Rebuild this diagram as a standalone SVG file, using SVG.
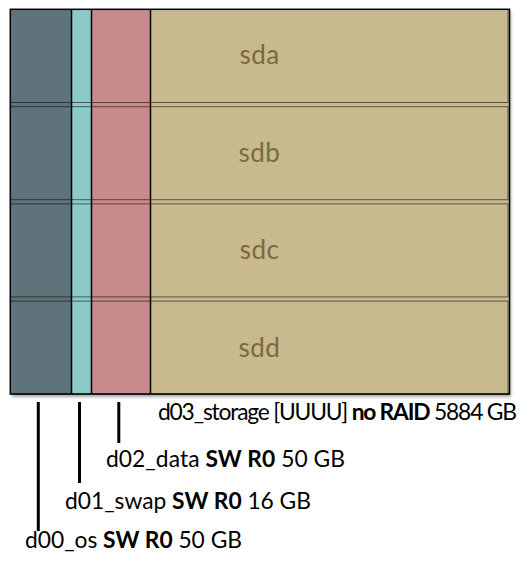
<svg xmlns="http://www.w3.org/2000/svg" width="531" height="561" viewBox="0 0 531 561">
<defs>
<filter id="sh" x="-5%" y="-5%" width="110%" height="110%"><feGaussianBlur stdDeviation="1.5"/></filter>
<style>
.row{fill:none;stroke:#000;stroke-opacity:0.55;stroke-width:1}
.div{stroke:#000;stroke-width:1.5}
.disk{font-family:Lato,"Open Sans",sans-serif;font-size:26px;fill:#7a6b3c;text-anchor:middle;letter-spacing:0.5px}
.lbl{font-family:Lato,"Open Sans",sans-serif;font-size:22.8px;fill:#000}
.lead{stroke:#000;stroke-width:3}
</style>
</defs>
<rect x="12" y="11" width="499" height="386" fill="#000" opacity="0.35" filter="url(#sh)"/>
<g id="columns">
<rect id="d00_os" x="10" y="9.5" width="61.5" height="384.5" fill="#5f747a"/>
<rect id="d01_swap" x="71.5" y="9.5" width="20" height="384.5" fill="#8ccac8"/>
<rect id="d02_data" x="91.5" y="9.5" width="59" height="384.5" fill="#c98a8b"/>
<rect id="d03_storage" x="150.5" y="9.5" width="359" height="384.5" fill="#c8b98f"/>
</g>
<g id="rows">
<g id="sda"><rect class="row" x="10.5" y="9.5" width="497.5" height="93"/><text class="disk" x="259.5" y="64">sda</text></g>
<g id="sdb"><rect class="row" x="10.5" y="106.7" width="497.5" height="93"/><text class="disk" x="259.5" y="162">sdb</text></g>
<g id="sdc"><rect class="row" x="10.5" y="203.9" width="497.5" height="93"/><text class="disk" x="259.5" y="259">sdc</text></g>
<g id="sdd"><rect class="row" x="10.5" y="301.1" width="497.5" height="93"/><text class="disk" x="259.5" y="357">sdd</text></g>
</g>
<g id="borders">
<line class="div" x1="71.5" y1="9.5" x2="71.5" y2="394"/>
<line class="div" x1="91.5" y1="9.5" x2="91.5" y2="394"/>
<line class="div" x1="150.5" y1="9.5" x2="150.5" y2="394"/>
<rect x="10.3" y="9.3" width="499.2" height="384.7" fill="none" stroke="#000" stroke-width="1.5"/>
</g>
<g id="connectors">
<line class="lead" x1="38.3" y1="402" x2="38.3" y2="531"/>
<line class="lead" x1="79.5" y1="402" x2="79.5" y2="483"/>
<line class="lead" x1="118.8" y1="402" x2="118.8" y2="443"/>
</g>
<g id="labels">
<text class="lbl" x="158" y="419.5" font-size="20.5" textLength="359" lengthAdjust="spacing">d03_storage [UUUU] <tspan font-weight="bold">no RAID</tspan> 5884 GB</text>
<text class="lbl" x="106" y="467" textLength="239" lengthAdjust="spacing">d02_data <tspan font-weight="bold">SW R0</tspan> 50 GB</text>
<text class="lbl" x="65" y="509" textLength="246" lengthAdjust="spacing">d01_swap <tspan font-weight="bold">SW R0</tspan> 16 GB</text>
<text class="lbl" x="25" y="547.5" textLength="217" lengthAdjust="spacing">d00_os <tspan font-weight="bold">SW R0</tspan> 50 GB</text>
</g>
</svg>
